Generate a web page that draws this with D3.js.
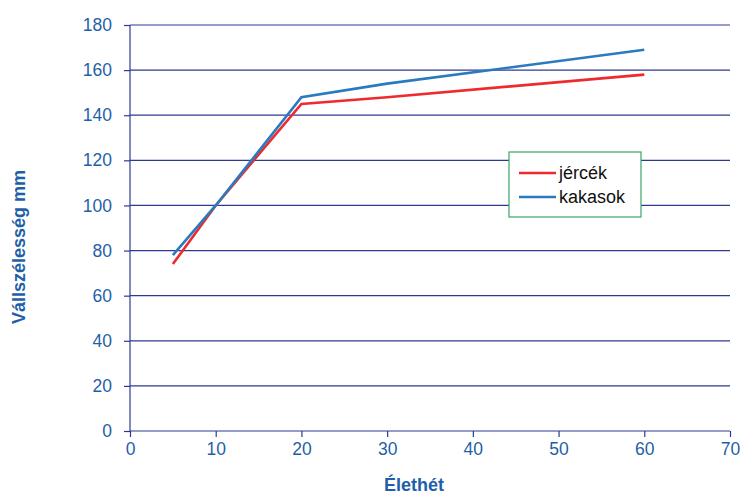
<!DOCTYPE html>
<html>
<head>
<meta charset="utf-8">
<script src="https://cdn.jsdelivr.net/npm/d3@7"></script>
<style>
  body { margin: 0; background: #fff; }
  text { font-family: "Liberation Sans", Arial, sans-serif; }
</style>
</head>
<body>
<div id="chart"></div>
<script>
// Data
const weeks = [5, 10, 20, 30, 60];
const jercek = [74, 100, 145, 148, 158];
const kakasok = [78, 100, 148, 154, 169];
const seriesNames = ["jércék", "kakasok"];
const seriesColors = ["#ee2a2f", "#2a7ac0"];
const xTicks = [0, 10, 20, 30, 40, 50, 60, 70];
const yTicks = [0, 20, 40, 60, 80, 100, 120, 140, 160, 180];

const W = 743, H = 495;
const margin = { top: 25, right: 13, bottom: 64, left: 130 };
const width = W - margin.left - margin.right;
const height = H - margin.top - margin.bottom;

const axisColor = "#2e3a8f";
const labelColor = "#1f5fa8";

const svg = d3.select("#chart").append("svg")
    .attr("width", W).attr("height", H);

const g = svg.append("g")
    .attr("transform", `translate(${margin.left},${margin.top})`);

const x = d3.scaleLinear().domain([0, 70]).range([0, width]);
const y = d3.scaleLinear().domain([0, 180]).range([height, 0]);

// horizontal grid lines
g.selectAll(".grid").data(yTicks.filter(d => d > 0)).enter()
    .append("line")
    .attr("x1", 0).attr("x2", width)
    .attr("y1", d => y(d)).attr("y2", d => y(d))
    .attr("stroke", axisColor).attr("stroke-width", 1.2);

// y axis
const yAxis = g.append("g")
    .call(d3.axisLeft(y).tickValues(yTicks).tickSize(6).tickPadding(12));
// x axis
const xAxis = g.append("g")
    .attr("transform", `translate(0,${height})`)
    .call(d3.axisBottom(x).tickValues(xTicks).tickSize(6).tickPadding(6));

[yAxis, xAxis].forEach(a => {
    a.select(".domain").attr("stroke", axisColor).attr("stroke-width", 1.2);
    a.selectAll(".tick line").attr("stroke", axisColor).attr("stroke-width", 1.2);
    a.selectAll(".tick text").attr("fill", labelColor).style("font-size", "17.5px");
});
xAxis.select(".domain").attr("d", `M0,0H${width}`);
yAxis.select(".domain").attr("d", `M0,0V${height}`);

// lines
const line = d3.line()
    .x((d, i) => x(weeks[i]))
    .y(d => y(d));

[jercek, kakasok].forEach((vals, i) => {
    g.append("path")
        .datum(vals)
        .attr("fill", "none")
        .attr("stroke", seriesColors[i])
        .attr("stroke-width", 2.6)
        .attr("d", line);
});

// axis titles
svg.append("text")
    .attr("x", 414).attr("y", 491)
    .attr("text-anchor", "middle")
    .attr("fill", labelColor)
    .style("font-size", "18px").style("font-weight", "bold")
    .text("Élethét");

svg.append("text")
    .attr("transform", "translate(25,247) rotate(-90)")
    .attr("text-anchor", "middle")
    .attr("fill", labelColor)
    .style("font-size", "18px").style("font-weight", "bold")
    .text("Vállszélesség mm");

// legend
const legend = svg.append("g").attr("transform", "translate(509,152)");
legend.append("rect")
    .attr("width", 132).attr("height", 65)
    .attr("fill", "#fff")
    .attr("stroke", "#3aa66a").attr("stroke-width", 1.2);

seriesNames.forEach((name, i) => {
    const ly = 21 + i * 24;
    legend.append("line")
        .attr("x1", 10).attr("x2", 47)
        .attr("y1", ly).attr("y2", ly)
        .attr("stroke", seriesColors[i]).attr("stroke-width", 2.6);
    legend.append("text")
        .attr("x", 50).attr("y", ly + 6)
        .attr("fill", "#111")
        .style("font-size", "18px")
        .text(name);
});
</script>
</body>
</html>
